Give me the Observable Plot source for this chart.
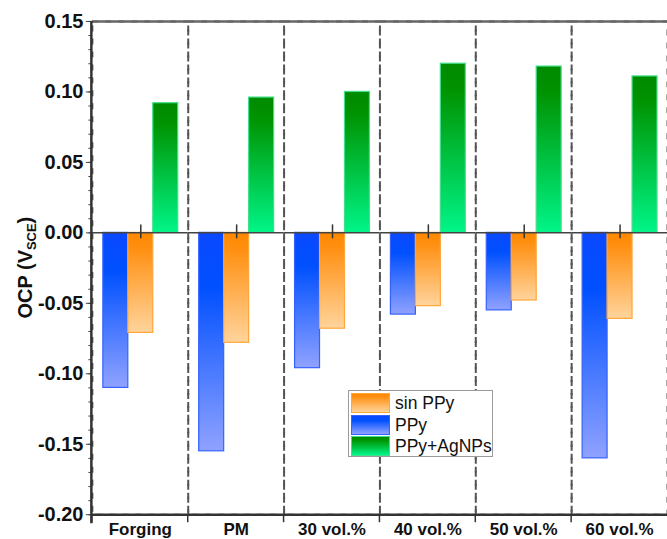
<!DOCTYPE html>
<html><head><meta charset="utf-8">
<script src="https://cdn.jsdelivr.net/npm/d3@7"></script>
<script src="https://cdn.jsdelivr.net/npm/@observablehq/plot@0.6"></script>
<style>
html,body{margin:0;padding:0;overflow:hidden;background:#fff;}
#wrap{position:relative;width:667px;height:539px;overflow:hidden;font-family:"Liberation Sans",Arial,sans-serif;}
#legend{position:absolute;left:348px;top:390px;width:143px;height:65px;border:1.5px solid #9a9a9a;background:#fff;}
.row{position:absolute;left:2px;height:20px;display:flex;align-items:center;}
.sw{width:37px;height:18px;margin-right:5px;}
.lt{font-size:17.5px;color:#111;line-height:20px;}
</style></head>
<body><div id="wrap"></div>
<script>
const categories = ["Forging","PM","30 vol.%","40 vol.%","50 vol.%","60 vol.%"];
const seriesNames = ["PPy","sin PPy","PPy+AgNPs"];
const ppy    = [-0.110,-0.155,-0.096,-0.058,-0.055,-0.160];
const sinPpy = [-0.071,-0.078,-0.068,-0.052,-0.048,-0.061];
const ppyAg  = [0.092,0.096,0.100,0.120,0.118,0.111];
const yTicks = [-0.20,-0.15,-0.10,-0.05,0.00,0.05,0.10,0.15];
const yTickLabels = ["-0.20","-0.15","-0.10","-0.05","0.00","0.05","0.10","0.15"];
const legendOrder = ["sin PPy","PPy","PPy+AgNPs"];

const rows = categories.flatMap((c,i)=>[
  {cat:c, series:"PPy", v:ppy[i]},
  {cat:c, series:"sin PPy", v:sinPpy[i]},
  {cat:c, series:"PPy+AgNPs", v:ppyAg[i]}
]);
const minorTicks = d3.range(-20, 16).map(k => k/100);

const styles = {
  "PPy": {fill:"url(#gBlue)", stroke:"#3462ff", css:"linear-gradient(#0a48ff 0%, #0050ff 25%, #90a2ff 100%)"},
  "sin PPy": {fill:"url(#gOrange)", stroke:"#ffa63a", css:"linear-gradient(#ff8800 0%, #ff8f10 15%, #ffd49c 100%)"},
  "PPy+AgNPs": {fill:"url(#gGreen)", stroke:"#3fe08a", css:"linear-gradient(#008a00 0%, #009200 15%, #00f588 100%)"}
};

const font = "'Liberation Sans', Arial, sans-serif";
const plot = Plot.plot({
  width: 668, height: 539,
  marginLeft: 91, marginRight: 0, marginTop: 21, marginBottom: 24,
  style: {fontFamily: font, background: "white", color: "#222"},
  fx: {domain: categories, padding: 0, label: null},
  x: {domain: seriesNames, paddingInner: 0, paddingOuter: 0.37, axis: null},
  y: {domain: [-0.2, 0.15], axis: null},
  marks: [
    Plot.frame({stroke: "#555", strokeWidth: 2, strokeDasharray: "6,7"}),
    ...seriesNames.map(s => Plot.barY(rows.filter(d => d.series === s), {
      fx: "cat", x: "series", y: "v", fill: styles[s].fill, stroke: styles[s].stroke, strokeWidth: 1.2
    })),
    Plot.ruleY([0], {stroke: "#444", strokeWidth: 1.5}),
    Plot.ruleY([0.15], {stroke: "#666", strokeWidth: 2.5}),
    Plot.ruleY([-0.2], {stroke: "#333", strokeWidth: 2.5}),
    Plot.ruleX(categories, {fx: d => d, x: () => "sin PPy", y1: () => 0, y2: () => 0, insetTop: -8, insetBottom: -6, stroke: "#333", strokeWidth: 1.5}),
    Plot.axisY({ticks: minorTicks, tickSize: 3.5, tickFormat: () => "", label: null, stroke: "#444"}),
    Plot.axisY({ticks: yTicks, tickFormat: (d) => yTickLabels[yTicks.findIndex(t => Math.abs(t - d) < 1e-9)], tickSize: 6, tickPadding: 3, fontSize: 20, fontWeight: "bold", label: null, stroke: "#444", fill: "#111"}),
    Plot.axisFx({anchor: "bottom", tickSize: 0, tickPadding: 8, fontSize: 17, fontWeight: "bold", label: null, fill: "#111"})
  ]
});

const svg = d3.select(plot);
const defs = svg.insert("defs", ":first-child");
function grad(id, stops) {
  const g = defs.append("linearGradient").attr("id", id).attr("x1", 0).attr("y1", 0).attr("x2", 0).attr("y2", 1);
  stops.forEach(([o, c]) => g.append("stop").attr("offset", o).attr("stop-color", c));
}
grad("gBlue", [[0, "#0a48ff"], [0.25, "#0050ff"], [1, "#90a2ff"]]);
grad("gOrange", [[0, "#ff8800"], [0.15, "#ff8f10"], [1, "#ffd49c"]]);
grad("gGreen", [[0, "#008a00"], [0.15, "#009200"], [1, "#00f588"]]);

const ys = plot.scale("y"), fxs = plot.scale("fx");
const yTop = ys.apply(0.15), yBot = ys.apply(-0.2);
// y axis line
svg.append("line").attr("x1", 91.5).attr("x2", 91.5).attr("y1", yTop).attr("y2", yBot + 9).attr("stroke", "#333").attr("stroke-width", 2.5);
// bottom ticks at category boundaries
categories.forEach(c => {
  const x0 = fxs.apply(c);
  svg.append("line").attr("x1", x0).attr("x2", x0).attr("y1", yBot).attr("y2", yBot + 8).attr("stroke", "#333").attr("stroke-width", 1.5);
});
// y axis title
const t = svg.append("text").attr("transform", `translate(32,${(yTop + yBot) / 2}) rotate(-90)`)
  .attr("text-anchor", "middle").attr("font-size", 20).attr("font-weight", "bold").attr("fill", "#111").attr("font-family", font);
t.append("tspan").text("OCP (V");
t.append("tspan").attr("font-size", 13).attr("dy", 4).text("SCE");
t.append("tspan").attr("dy", -4).text(")");

const wrap = document.getElementById("wrap");
wrap.appendChild(plot);
const leg = document.createElement("div");
leg.id = "legend";
legendOrder.forEach((s, i) => {
  const r = document.createElement("div");
  r.className = "row";
  r.style.top = (2 + i * 21.7) + "px";
  r.innerHTML = `<div class="sw" style="background:${styles[s].css};border:1px solid ${styles[s].stroke}"></div><span class="lt">${s}</span>`;
  leg.appendChild(r);
});
wrap.appendChild(leg);
</script></body></html>
